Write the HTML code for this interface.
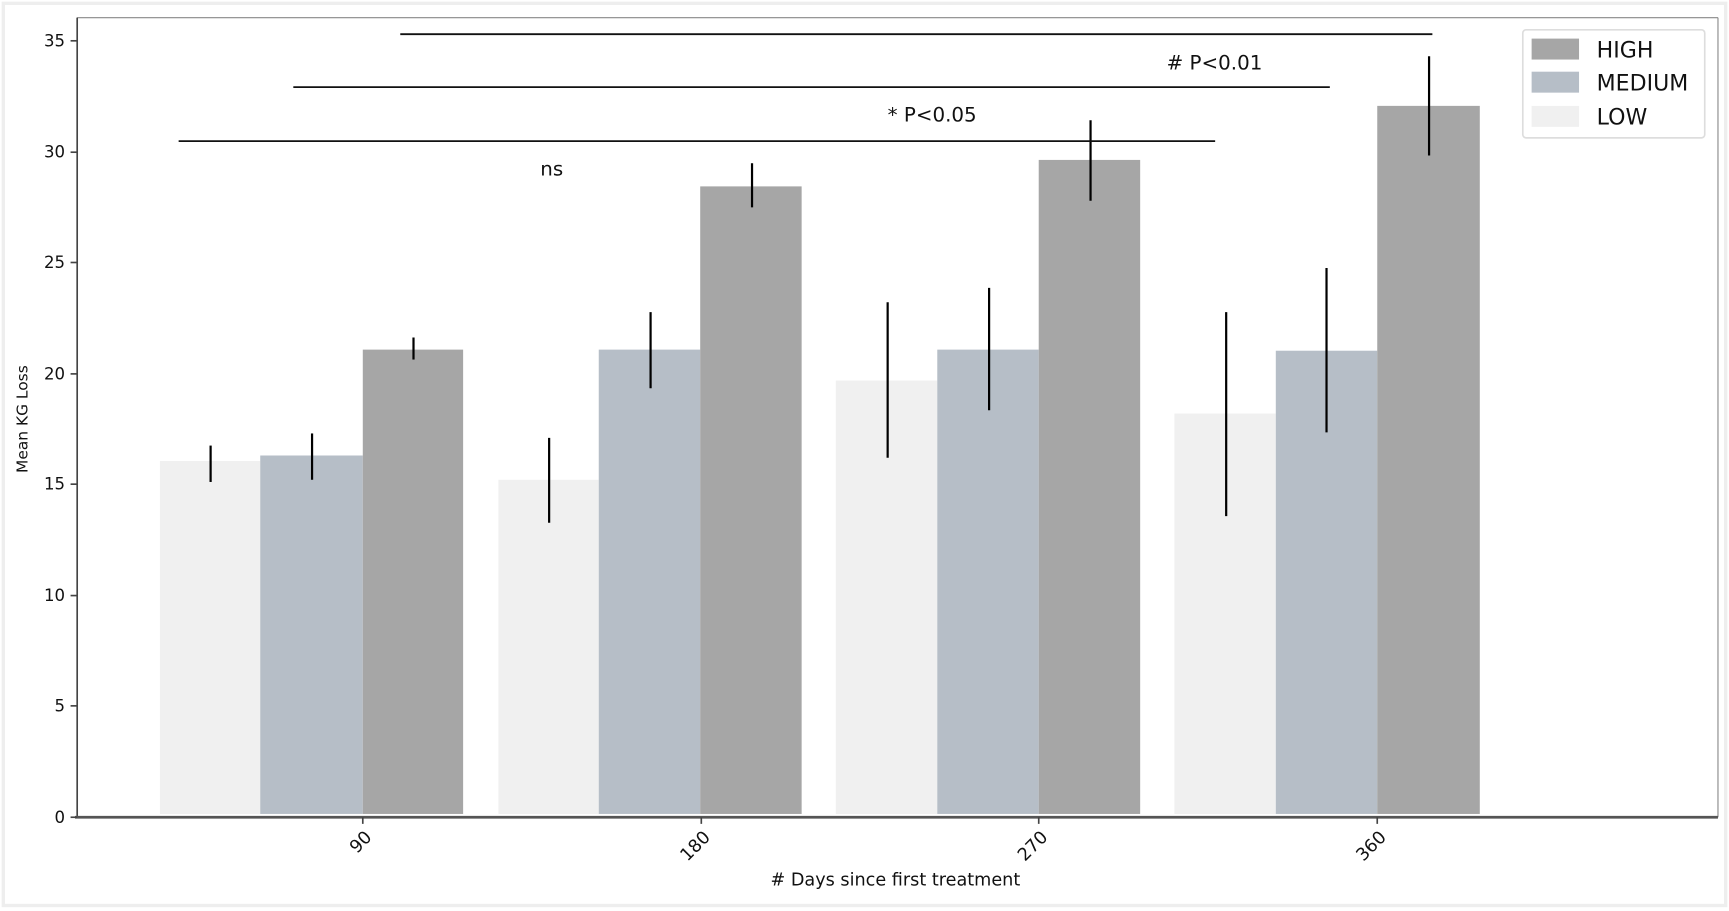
<!DOCTYPE html>
<html><head><meta charset="utf-8"><style>
html,body{margin:0;padding:0;background:#fff;width:1729px;height:911px;overflow:hidden}
svg{display:block}
text{font-family:"DejaVu Sans","Liberation Sans",sans-serif;fill:#111}
</style></head><body>
<svg width="1729" height="911" viewBox="0 0 1568 826" preserveAspectRatio="none">
<rect x="0" y="0" width="1568" height="826" fill="#fff"/>
<rect x="3" y="3" width="1562" height="818" fill="none" stroke="#eee" stroke-width="3"/>
<g fill="#f0f0f0">
<rect x="145" y="418" width="91" height="320"/>
<rect x="452" y="435" width="91" height="303"/>
<rect x="758" y="345" width="92" height="393"/>
<rect x="1065" y="375" width="92" height="363"/>
</g>
<g fill="#b6bec7">
<rect x="236" y="413" width="93" height="325"/>
<rect x="543" y="317" width="92" height="421"/>
<rect x="850" y="317" width="92" height="421"/>
<rect x="1157" y="318" width="92" height="420"/>
</g>
<g fill="#a6a6a6">
<rect x="329" y="317" width="91" height="421"/>
<rect x="635" y="169" width="92" height="569"/>
<rect x="942" y="145" width="92" height="593"/>
<rect x="1249" y="96" width="93" height="642"/>
</g>
<g stroke="#000" stroke-width="2">
<line x1="191" y1="404" x2="191" y2="437"/>
<line x1="283" y1="393" x2="283" y2="435"/>
<line x1="375" y1="306" x2="375" y2="326"/>
<line x1="498" y1="397" x2="498" y2="474"/>
<line x1="590" y1="283" x2="590" y2="352"/>
<line x1="682" y1="148" x2="682" y2="188"/>
<line x1="805" y1="274" x2="805" y2="415"/>
<line x1="897" y1="261" x2="897" y2="372"/>
<line x1="989" y1="109" x2="989" y2="182"/>
<line x1="1112" y1="283" x2="1112" y2="468"/>
<line x1="1203" y1="243" x2="1203" y2="392"/>
<line x1="1296" y1="51" x2="1296" y2="141"/>
</g>
<g stroke="#111" stroke-width="1.6">
<line x1="363" y1="31" x2="1299" y2="31"/>
<line x1="266" y1="79" x2="1206" y2="79"/>
<line x1="162" y1="128" x2="1102" y2="128"/>
</g>
<text x="1058" y="63" font-size="18">#&#160;P&lt;0.01</text>
<text x="805" y="110" font-size="18">*&#160;P&lt;0.05</text>
<text x="490" y="159" font-size="18">ns</text>
<line x1="70" y1="16" x2="1558" y2="16" stroke="#888" stroke-width="1"/>
<line x1="1558" y1="16" x2="1558" y2="741" stroke="#888" stroke-width="1"/>
<line x1="70" y1="16" x2="70" y2="741" stroke="#444" stroke-width="1.5"/>
<line x1="68" y1="741" x2="1558" y2="741" stroke="#555" stroke-width="2.5"/>
<g stroke="#444" stroke-width="1.5">
<line x1="64" y1="741" x2="70" y2="741"/><line x1="64" y1="640" x2="70" y2="640"/>
<line x1="64" y1="540" x2="70" y2="540"/><line x1="64" y1="439" x2="70" y2="439"/>
<line x1="64" y1="339" x2="70" y2="339"/><line x1="64" y1="238" x2="70" y2="238"/>
<line x1="64" y1="138" x2="70" y2="138"/><line x1="64" y1="37" x2="70" y2="37"/>
<line x1="329" y1="741" x2="329" y2="747"/><line x1="636" y1="741" x2="636" y2="747"/>
<line x1="942" y1="741" x2="942" y2="747"/><line x1="1249" y1="741" x2="1249" y2="747"/>
</g>
<g font-size="15" text-anchor="end">
<text x="59" y="746">0</text><text x="59" y="645">5</text><text x="59" y="545">10</text>
<text x="59" y="444">15</text><text x="59" y="344">20</text><text x="59" y="243">25</text>
<text x="59" y="143">30</text><text x="59" y="42">35</text>
</g>
<g font-size="16" text-anchor="end">
<text transform="translate(338,760) rotate(-45)">90</text>
<text transform="translate(645,760) rotate(-45)">180</text>
<text transform="translate(951,760) rotate(-45)">270</text>
<text transform="translate(1258,760) rotate(-45)">360</text>
</g>
<text x="812" y="803" font-size="16" text-anchor="middle"># Days since first treatment</text>
<text transform="translate(25,380) rotate(-90)" font-size="14" text-anchor="middle">Mean KG Loss</text>
<rect x="1381" y="27" width="165" height="98" fill="#fff" stroke="#ddd" stroke-width="1.5" rx="3"/>
<rect x="1389" y="35" width="43" height="19" fill="#a6a6a6"/>
<rect x="1389" y="65" width="43" height="19" fill="#b6bec7"/>
<rect x="1389" y="96" width="43" height="19" fill="#f0f0f0"/>
<g font-size="20">
<text x="1448" y="52">HIGH</text>
<text x="1448" y="82">MEDIUM</text>
<text x="1448" y="113">LOW</text>
</g>
</svg>
</body></html>
